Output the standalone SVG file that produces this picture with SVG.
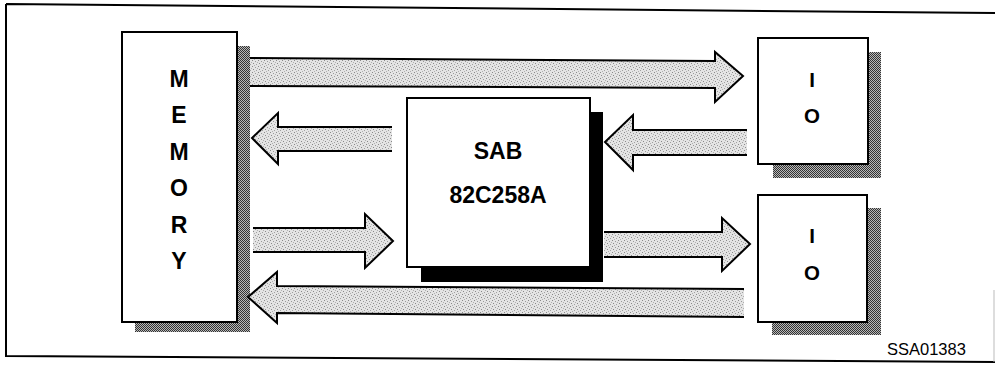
<svg xmlns="http://www.w3.org/2000/svg" width="995" height="365" viewBox="0 0 995 365">
<defs>
<pattern id="stip" width="6" height="6" patternUnits="userSpaceOnUse">
<rect width="6" height="6" fill="#e4e4e4"/>
<rect x="0" y="0" width="1" height="1" fill="#8a8a8a"/>
<rect x="3" y="1" width="1" height="1" fill="#9a9a9a"/>
<rect x="1" y="3" width="1" height="1" fill="#8a8a8a"/>
<rect x="4" y="4" width="1" height="1" fill="#a0a0a0"/>
<rect x="5" y="2" width="1" height="1" fill="#b0b0b0"/>
<rect x="2" y="5" width="1" height="1" fill="#b0b0b0"/>
</pattern>
<pattern id="chk" width="2" height="2" patternUnits="userSpaceOnUse">
<rect width="2" height="2" fill="#b8b8b8"/>
<rect x="0" y="0" width="1" height="1" fill="#333"/>
<rect x="1" y="1" width="1" height="1" fill="#333"/>
</pattern>
</defs>
<style>
.box{fill:#fff;stroke:#000;stroke-width:2}
.shd{fill:url(#chk)}
.arr{fill:url(#stip);stroke:#000;stroke-width:2;stroke-linejoin:miter}
.lbl{font-family:"Liberation Sans",Arial,sans-serif;font-weight:bold;font-size:23px;fill:#000;text-anchor:middle}
.io{font-size:20.5px}
.chip{font-size:23px}
.ref{font-family:"Liberation Sans",Arial,sans-serif;font-size:16.5px;fill:#000}
.frame{fill:none;stroke:#000;stroke-width:2}
</style>
<rect width="995" height="365" fill="#fff"/>
<path class="frame" d="M6,4 L995,13 M6,4 L6,356 L995,362"/>
<line x1="994" y1="290" x2="994" y2="362" stroke="#bbb" stroke-width="1"/>

<g id="memory">
<path class="shd" d="M237,46 H250 V332 H135 V322 H237 Z"/>
<rect class="box" x="122" y="32" width="115" height="290"/>
<text class="lbl" x="179" y="87">M</text>
<text class="lbl" x="179" y="123">E</text>
<text class="lbl" x="179" y="160">M</text>
<text class="lbl" x="179" y="196">O</text>
<text class="lbl" x="179" y="233">R</text>
<text class="lbl" x="179" y="269">Y</text>
</g>

<g id="chip">
<rect x="421" y="112" width="182" height="170" fill="#000"/>
<rect class="box" x="407" y="98" width="183" height="169"/>
<text class="lbl chip" x="498" y="159">SAB</text>
<text class="lbl chip" x="498" y="203">82C258A</text>
</g>

<g id="io1">
<path class="shd" d="M868,52 H881 V178 H773 V164 H868 Z"/>
<rect class="box" x="758" y="38" width="110" height="126"/>
<text class="lbl io" x="812" y="87">I</text>
<text class="lbl io" x="812" y="123">O</text>
</g>

<g id="io2">
<path class="shd" d="M867,208 H881 V335 H772 V322 H867 Z"/>
<rect class="box" x="758" y="195" width="109" height="127"/>
<text class="lbl io" x="812" y="243">I</text>
<text class="lbl io" x="812" y="280">O</text>
</g>

<g id="connectors">
<path class="arr" d="M250,58 L715,61 L715,52 L743,76 L715,102 L715,88 L250,86"/>
<path class="arr" d="M392,127 L278,127 L278,113 L252,138 L278,164 L278,151 L392,151"/>
<path class="arr" d="M747,130 L633,130 L633,115 L605,142 L633,170 L633,155 L747,155"/>
<path class="arr" d="M253,228 L365,228 L365,214 L393,241 L365,268 L365,252 L253,252"/>
<path class="arr" d="M604,232 L722,232 L722,218 L750,244 L722,271 L722,257 L604,257"/>
<path class="arr" d="M744,289 L277,286 L277,272 L248,297 L277,323 L277,313 L744,317"/>
</g>

<text class="ref" x="887" y="355">SSA01383</text>
</svg>
